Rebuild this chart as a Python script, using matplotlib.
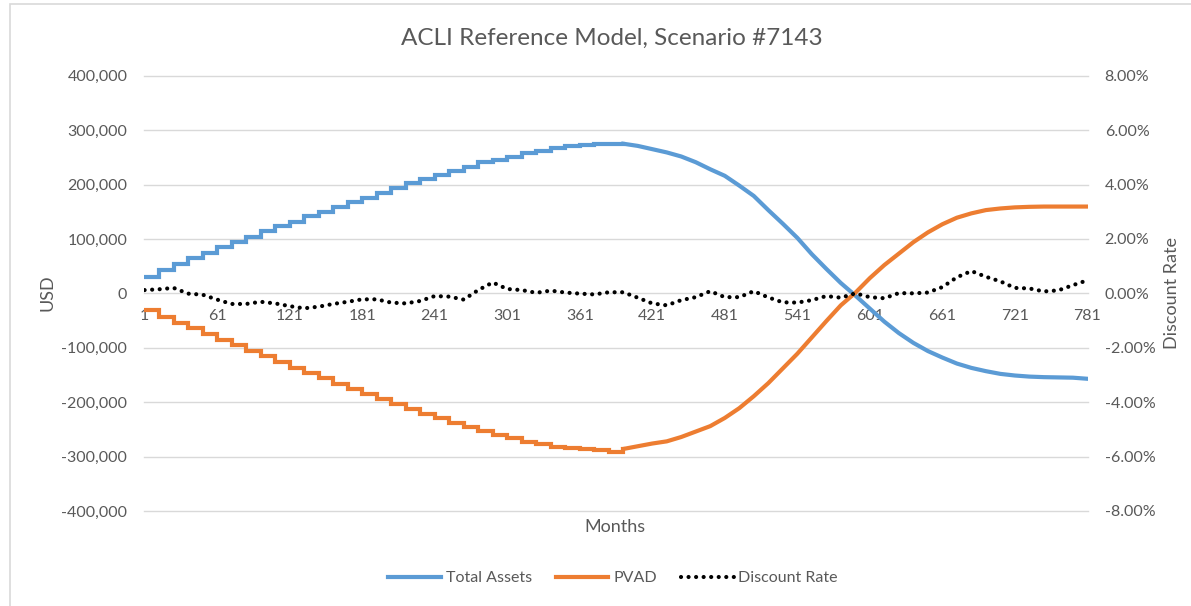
import matplotlib.pyplot as plt
import matplotlib.patches as patches
import numpy as np

plt.rcParams['font.family'] = ['Lato', 'DejaVu Sans']

# one value per policy year, read at months 1, 13, 25, ... 781 (thousands USD)
months = np.arange(1, 782, 12)
total_assets = [30, 42, 54, 65, 74.5, 85, 94, 104, 114, 123,
                131, 142, 150, 158, 167, 176, 185, 194, 203, 211,
                218, 225, 232.6, 240.5, 245, 251, 257.7, 262, 267, 270,
                273, 275, 274, 275, 271, 265, 259, 251.5, 241, 228,
                216, 198, 179, 153, 128, 102, 72, 45, 19, -4,
                -28, -52, -73, -91, -106, -118, -129, -137, -143, -148,
                -151, -153, -154, -154.5, -155, -157]
pvad = [-30.7, -43, -54, -64, -75, -86, -95.6, -106, -116, -126,
        -136.6, -145.8, -156, -166, -175, -185.7, -195, -204, -213, -222,
        -230, -237.7, -245.7, -253, -260.5, -266.5, -272.6, -277.6, -281.8, -285,
        -286.8, -288.6, -291, -286, -281, -276, -272, -264, -254, -244,
        -229, -211, -189, -165, -138, -111, -81, -51, -22, 1,
        28, 52, 73, 94, 112, 127, 139, 147, 153, 156,
        158, 159, 159.5, 159.5, 159.5, 159.5]
# discount rate in percent
discount_rate = [0.12, 0.15, 0.20, -0.01, -0.05, -0.23, -0.39, -0.39, -0.31, -0.37,
                 -0.47, -0.55, -0.49, -0.39, -0.31, -0.22, -0.22, -0.34, -0.37, -0.28,
                 -0.10, -0.12, -0.23, 0.12, 0.40, 0.16, 0.12, 0.02, 0.10, 0.03,
                 -0.01, -0.04, 0.04, 0.04, -0.16, -0.37, -0.44, -0.25, -0.14, 0.08,
                 -0.14, -0.14, 0.08, -0.15, -0.33, -0.34, -0.25, -0.10, -0.16, 0.0,
                 -0.14, -0.18, 0.01, 0.0, 0.03, 0.23, 0.59, 0.82, 0.61, 0.44,
                 0.20, 0.18, 0.07, 0.11, 0.30, 0.48]
xticks = np.arange(1, 782, 60)

ta = np.array(total_assets) * 1000
pv = np.array(pvad) * 1000
dr = np.array(discount_rate) / 100

blue = '#5B9BD5'
orange = '#ED7D31'
grey = '#595959'
grid = '#D9D9D9'
n = 34  # first 33 years drawn as annual steps

fig = plt.figure(figsize=(11.91, 6.06), dpi=100)
ax = fig.add_axes([144 / 1191, 1 - 511 / 606, (1088 - 144) / 1191, (511 - 75.7) / 606])
ax2 = ax.twinx()

ax.plot(months[:n], ta[:n], drawstyle='steps-post', color=blue, lw=3, solid_joinstyle='miter')
ax.plot(months[n - 1:], ta[n - 1:], color=blue, lw=3, label='Total Assets')
ax.plot(months[:n], pv[:n], drawstyle='steps-post', color=orange, lw=3, solid_joinstyle='miter')
ax.plot(months[n - 1:], pv[n - 1:], color=orange, lw=3, label='PVAD')
ax2.plot(months, dr, color='black', lw=3, linestyle=(0, (0.01, 1.8)),
         dash_capstyle='round', label='Discount Rate')

ax.set_xlim(0.5, 781.5)
ax.set_ylim(-400000, 400000)
ax2.set_ylim(-0.08, 0.08)
ax.set_yticks(np.arange(-400000, 400001, 100000))
ax2.set_yticks(np.arange(-0.08, 0.0801, 0.02))
ax.set_yticklabels(['{:,}'.format(int(v)) for v in ax.get_yticks()])
ax2.set_yticklabels(['{:.2f}%'.format(v * 100) for v in ax2.get_yticks()])
ax.set_xticks(xticks)
ax.set_xticklabels([str(x) for x in xticks])

ax.grid(axis='y', color=grid, lw=1)
for gl in ax.get_ygridlines():
    gl.set_clip_on(False)
ax.set_axisbelow(True)
for a in (ax, ax2):
    for s in a.spines.values():
        s.set_visible(False)
ax.spines['bottom'].set_position(('data', 0))
ax.tick_params(axis='y', length=0, pad=12, labelsize=11.5, labelcolor=grey)
ax2.tick_params(axis='y', length=0, pad=12, labelsize=11.5, labelcolor=grey)
ax.tick_params(axis='x', length=0, pad=11, labelsize=11.5, labelcolor=grey)

fig.text(612 / 1191, 1 - 38 / 606, 'ACLI Reference Model, Scenario #7143', fontsize=17.5,
         color=grey, ha='center', va='center')
fig.text(48 / 1191, 1 - 293 / 606, 'USD', fontsize=13, color=grey, rotation=90,
         ha='center', va='center')
fig.text(1172 / 1191, 1 - 293 / 606, 'Discount Rate', fontsize=13, color=grey, rotation=90,
         ha='center', va='center')
fig.text(615 / 1191, 1 - 527 / 606, 'Months', fontsize=13, color=grey, ha='center', va='center')

h1, l1 = ax.get_legend_handles_labels()
h2, l2 = ax2.get_legend_handles_labels()
fig.legend(h1 + h2, l1 + l2, loc='center', bbox_to_anchor=(613 / 1191, 1 - 578 / 606), ncol=3,
           frameon=False, fontsize=11.5, labelcolor=grey, handlelength=3.3,
           handletextpad=0.3, columnspacing=1.5)

fig.patches.append(patches.Rectangle((10 / 1191, -0.1), 1.2, 1 - 4 / 606 + 0.1,
                                     transform=fig.transFigure, fill=False,
                                     edgecolor=grid, lw=1.2))

fig.savefig('out.png', dpi=100, facecolor='white')
